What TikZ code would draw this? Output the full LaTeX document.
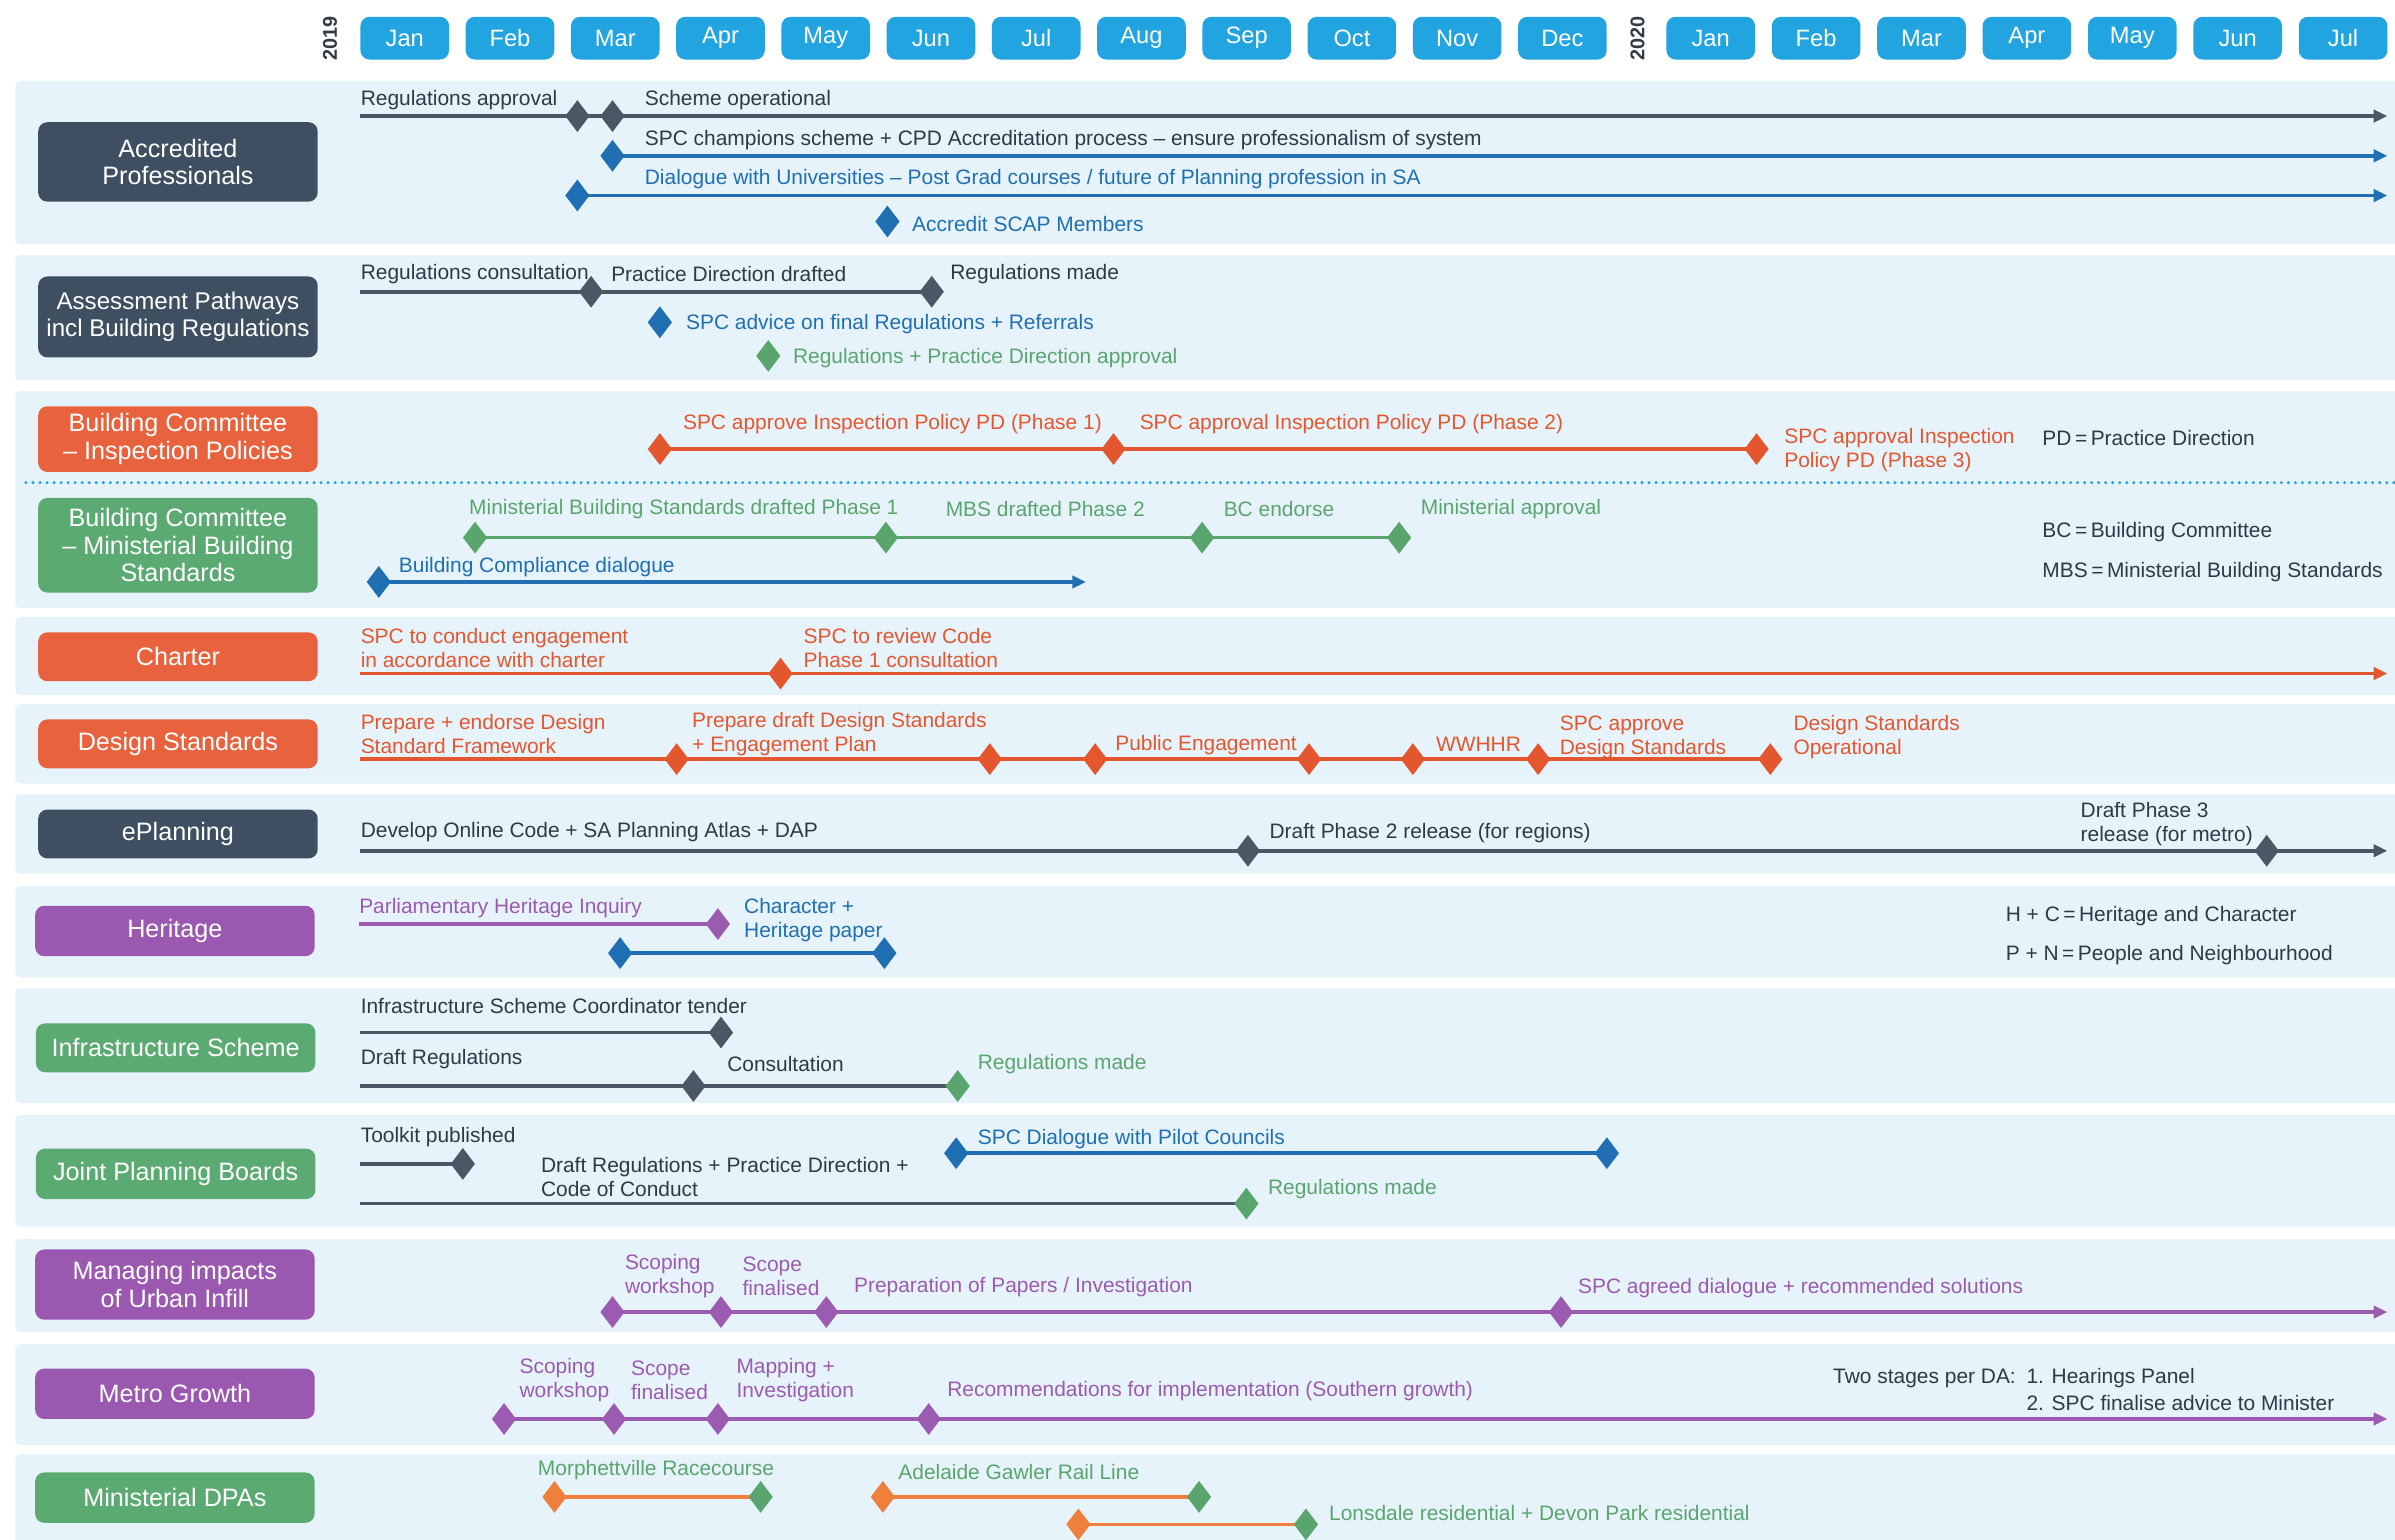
\documentclass[tikz,border=0pt]{standalone}
\usepackage{fontspec}
\setmainfont{Liberation Sans}
\usetikzlibrary{shapes.geometric,arrows.meta}
\pgfdeclarelayer{bgl}\pgfdeclarelayer{lnl}\pgfsetlayers{bgl,lnl,main}
\definecolor{slatec}{HTML}{3D4F60}
\definecolor{redc}{HTML}{E8623D}
\definecolor{greenc}{HTML}{5BAA72}
\definecolor{purplec}{HTML}{9A58B0}
\definecolor{pillc}{HTML}{21A4E0}
\definecolor{bandc}{HTML}{E7F3FB}
\definecolor{slatel}{HTML}{4A5866}
\definecolor{darkt}{HTML}{2E3A44}
\definecolor{redl}{HTML}{E4572E}
\definecolor{greenl}{HTML}{5AA56E}
\definecolor{bluel}{HTML}{1F6FB2}
\definecolor{purplel}{HTML}{9A5BB0}
\definecolor{orangel}{HTML}{F07F3C}
\newcommand\mylbl{\fontsize{13.7}{15.7}\selectfont}
\newcommand\mycat{\fontsize{16.5}{18}\selectfont}
\newcommand\mycatsm{\fontsize{15.8}{18}\selectfont}
\newcommand\mypill{\fontsize{15.5}{18}\selectfont}
\newcommand\myyear{\fontsize{13}{15}\selectfont\bfseries}
\begin{document}
\begin{tikzpicture}[x=1pt,y={(0,-1pt)},
  band/.style={fill=bandc, draw=none, rounded corners=3pt},
  catbox/.style={rounded corners=6pt, minimum width=183pt, text=white, font=\mycat, align=center, inner sep=0pt},
  pill/.style={fill=pillc, rounded corners=6pt, minimum width=58pt, minimum height=28pt, text=white, font=\mypill, inner sep=0pt},
  dia/.style={diamond, fill=#1, minimum width=16pt, minimum height=21pt, inner sep=0pt},
  txt/.style={anchor=west, inner sep=0pt, font=\mylbl, text=#1, align=left, yshift=-1.5pt},
  tline/.style={line width=2.4pt, draw=#1},
  arr/.style={-{Triangle[length=9pt,width=8pt]}},
  sepline/.style={draw=pillc, line width=2.2pt, line cap=round, dash pattern=on 0pt off 4.6pt}
]
\useasboundingbox (0,0) rectangle (1568,1008);
\begin{pgfonlayer}{bgl}
\fill[white] (0,0) rectangle (1568,1008);
\fill[band] (10,53) rectangle (1572,160);
\fill[band] (10,167) rectangle (1572,249);
\fill[band] (10,256) rectangle (1572,398);
\fill[band] (10,404) rectangle (1572,455);
\fill[band] (10,461) rectangle (1572,513);
\fill[band] (10,520) rectangle (1572,572);
\fill[band] (10,580) rectangle (1572,640);
\fill[band] (10,647) rectangle (1572,722);
\fill[band] (10,730) rectangle (1572,803);
\fill[band] (10,811) rectangle (1572,872);
\fill[band] (10,880) rectangle (1572,946);
\fill[band] (10,952) rectangle (1572,1012);
\end{pgfonlayer}

% header
\node[rotate=90, font=\myyear, text=darkt] (y19) at (216,25) {2019};
\node[rotate=90, font=\myyear, text=darkt] (y20) at (1072,25) {2020};
\foreach \i/\m in {0/Jan,1/Feb,2/Mar,3/Apr,4/May,5/Jun,6/Jul,7/Aug,8/Sep,9/Oct,10/Nov,11/Dec}
  \node[pill] (m\i) at ({265+68.9*\i},25) {\m};
\foreach \i/\m in {0/Jan,1/Feb,2/Mar,3/Apr,4/May,5/Jun,6/Jul}
  \node[pill] (n\i) at ({1120+69*\i},25) {\m};

% category boxes
\node[catbox, fill=slatec, minimum height=52pt] (cat1) at (116.5,106) {Accredited\\Professionals};
\node[catbox, fill=slatec, minimum height=53pt, font=\mycatsm] (cat2) at (116.5,207.5) {Assessment Pathways\\incl Building Regulations};
\node[catbox, fill=redc, minimum height=43pt] (cat3) at (116.5,287.5) {Building Committee\\– Inspection Policies};
\node[catbox, fill=greenc, minimum height=62pt] (cat4) at (116.5,357) {Building Committee\\– Ministerial Building\\Standards};
\node[catbox, fill=redc, minimum height=32pt] (cat5) at (116.5,430) {Charter};
\node[catbox, fill=redc, minimum height=32pt] (cat6) at (116.5,487) {Design Standards};
\node[catbox, fill=slatec, minimum height=32pt] (cat7) at (116.5,546) {ePlanning};
\node[catbox, fill=purplec, minimum height=33pt] (cat8) at (114.5,609.5) {Heritage};
\node[catbox, fill=greenc, minimum height=32pt] (cat9) at (115,686) {Infrastructure Scheme};
\node[catbox, fill=greenc, minimum height=33pt] (cat10) at (115,768.5) {Joint Planning Boards};
\node[catbox, fill=purplec, minimum height=46pt] (cat11) at (114.5,841) {Managing impacts\\of Urban Infill};
\node[catbox, fill=purplec, minimum height=33pt] (cat12) at (114.5,912.5) {Metro Growth};
\node[catbox, fill=greenc, minimum height=33pt] (cat13) at (114.5,980.5) {Ministerial DPAs};

% free ends
\coordinate (c1s) at (236,76);  \coordinate (c1e) at (1563,76);
\coordinate (c1f) at (1563,102); \coordinate (c1g) at (1563,128);
\coordinate (c2s) at (236,191);
\coordinate (cds) at (17,316);  \coordinate (cde) at (1568,316);
\coordinate (c4e) at (711,381);
\coordinate (c5s) at (236,441); \coordinate (c5e) at (1563,441);
\coordinate (c6s) at (236,497);
\coordinate (c7s) at (236,557); \coordinate (c7e) at (1563,557);
\coordinate (c8s) at (235,605);
\coordinate (c9s) at (236,676); \coordinate (c9t) at (236,711);
\coordinate (c10s) at (236,762); \coordinate (c10t) at (236,788);
\coordinate (c11e) at (1563,859);
\coordinate (c12e) at (1563,929);

% diamonds
\node[dia=slatel] (d1a) at (378,76) {};
\node[dia=slatel] (d1b) at (401,76) {};
\node[dia=bluel] (d1c) at (401,102) {};
\node[dia=bluel] (d1d) at (378,128) {};
\node[dia=bluel] (d1e) at (581,145) {};
\node[dia=slatel] (d2a) at (387,191) {};
\node[dia=slatel] (d2b) at (610,191) {};
\node[dia=bluel] (d2c) at (432,211) {};
\node[dia=greenl] (d2d) at (503,233) {};
\node[dia=redl] (d3a) at (432,294) {};
\node[dia=redl] (d3b) at (729,294) {};
\node[dia=redl] (d3c) at (1150,294) {};
\node[dia=greenl] (d4a) at (311,352) {};
\node[dia=greenl] (d4b) at (580,352) {};
\node[dia=greenl] (d4c) at (787,352) {};
\node[dia=greenl] (d4d) at (916,352) {};
\node[dia=bluel] (d4e) at (248,381) {};
\node[dia=redl] (d5a) at (511,441) {};
\node[dia=redl] (d6a) at (443,497) {};
\node[dia=redl] (d6b) at (648,497) {};
\node[dia=redl] (d6c) at (717,497) {};
\node[dia=redl] (d6d) at (857,497) {};
\node[dia=redl] (d6e) at (925,497) {};
\node[dia=redl] (d6f) at (1007,497) {};
\node[dia=redl] (d6g) at (1159,497) {};
\node[dia=slatel] (d7a) at (817,557) {};
\node[dia=slatel] (d7b) at (1484,557) {};
\node[dia=purplel] (d8a) at (470,605) {};
\node[dia=bluel] (d8b) at (406,624) {};
\node[dia=bluel] (d8c) at (579,624) {};
\node[dia=slatel] (d9a) at (472,676) {};
\node[dia=slatel] (d9b) at (454,711) {};
\node[dia=greenl] (d9c) at (627,711) {};
\node[dia=slatel] (d10a) at (303,762) {};
\node[dia=greenl] (d10b) at (816,788) {};
\node[dia=bluel] (d10c) at (626,755) {};
\node[dia=bluel] (d10d) at (1052,755) {};
\node[dia=purplel] (d11a) at (401,859) {};
\node[dia=purplel] (d11b) at (472,859) {};
\node[dia=purplel] (d11c) at (541,859) {};
\node[dia=purplel] (d11d) at (1022,859) {};
\node[dia=purplel] (d12a) at (330,929) {};
\node[dia=purplel] (d12b) at (402,929) {};
\node[dia=purplel] (d12c) at (470,929) {};
\node[dia=purplel] (d12d) at (608,929) {};
\node[dia=orangel] (d13a) at (363,980) {};
\node[dia=greenl] (d13b) at (498,980) {};
\node[dia=orangel] (d13c) at (578,980) {};
\node[dia=greenl] (d13d) at (785,980) {};
\node[dia=orangel] (d13e) at (706,998) {};
\node[dia=greenl] (d13f) at (855,998) {};

% connectors
\begin{pgfonlayer}{lnl}
\draw[sepline] (cds) -- (cde);
\draw[tline=slatel, arr] (c1s) -- (d1a.center) -- (d1b.center) -- (c1e);
\draw[tline=bluel, arr] (d1c.center) -- (c1f);
\draw[tline=bluel, arr] (d1d.center) -- (c1g);
\draw[tline=slatel] (c2s) -- (d2a.center) -- (d2b.center);
\draw[tline=redl] (d3a.center) -- (d3b.center) -- (d3c.center);
\draw[tline=greenl] (d4a.center) -- (d4b.center) -- (d4c.center) -- (d4d.center);
\draw[tline=bluel, arr] (d4e.center) -- (c4e);
\draw[tline=redl, arr] (c5s) -- (d5a.center) -- (c5e);
\draw[tline=redl] (c6s) -- (d6a.center) -- (d6b.center) -- (d6c.center) -- (d6d.center) -- (d6e.center) -- (d6f.center) -- (d6g.center);
\draw[tline=slatel, arr] (c7s) -- (d7a.center) -- (d7b.center) -- (c7e);
\draw[tline=purplel] (c8s) -- (d8a.center);
\draw[tline=bluel] (d8b.center) -- (d8c.center);
\draw[tline=slatel] (c9s) -- (d9a.center);
\draw[tline=slatel] (c9t) -- (d9b.center) -- (d9c.center);
\draw[tline=slatel] (c10s) -- (d10a.center);
\draw[tline=slatel] (c10t) -- (d10b.center);
\draw[tline=bluel] (d10c.center) -- (d10d.center);
\draw[tline=purplel, arr] (d11a.center) -- (d11b.center) -- (d11c.center) -- (d11d.center) -- (c11e);
\draw[tline=purplel, arr] (d12a.center) -- (d12b.center) -- (d12c.center) -- (d12d.center) -- (c12e);
\draw[tline=orangel] (d13a.center) -- (d13b.center);
\draw[tline=orangel] (d13c.center) -- (d13d.center);
\draw[tline=orangel] (d13e.center) -- (d13f.center);
\end{pgfonlayer}

% labels row 1
\node[txt=darkt] (t1a) at (236,64) {Regulations approval};
\node[txt=darkt] (t1b) at (422,64) {Scheme operational};
\node[txt=darkt] (t1c) at (422,90) {SPC champions scheme + CPD Accreditation process – ensure professionalism of system};
\node[txt=bluel] (t1d) at (422,116) {Dialogue with Universities – Post Grad courses / future of Planning profession in SA};
\node[txt=bluel] (t1e) at (597,145) {Accredit SCAP Members};
% row 2
\node[txt=darkt] (t2a) at (236,178) {Regulations consultation};
\node[txt=darkt] (t2b) at (400,178) {Practice Direction drafted};
\node[txt=darkt] (t2c) at (622,178) {Regulations made};
\node[txt=bluel] (t2d) at (449,211) {SPC advice on final Regulations + Referrals};
\node[txt=greenl] (t2e) at (519,233) {Regulations + Practice Direction approval};
% row 3
\node[txt=redl] (t3a) at (447,276) {SPC approve Inspection Policy PD (Phase 1)};
\node[txt=redl] (t3b) at (746,276) {SPC approval Inspection Policy PD (Phase 2)};
\node[txt=redl] (t3c) at (1168,293) {SPC approval Inspection\\Policy PD (Phase 3)};
\node[txt=darkt] (t3d) at (1337,285) {PD\,=\,Practice Direction};
% row 4
\node[txt=greenl] (t4a) at (307,332) {Ministerial Building Standards drafted Phase 1};
\node[txt=greenl] (t4b) at (619,332) {MBS drafted Phase 2};
\node[txt=greenl] (t4c) at (801,332) {BC endorse};
\node[txt=greenl] (t4d) at (930,332) {Ministerial approval};
\node[txt=bluel] (t4e) at (261,370) {Building Compliance dialogue};
\node[txt=darkt] (t4f) at (1337,347) {BC\,=\,Building Committee};
\node[txt=darkt] (t4g) at (1337,373) {MBS\,=\,Ministerial Building Standards};
% row 5
\node[txt=redl] (t5a) at (236,423) {SPC to conduct engagement\\in accordance with charter};
\node[txt=redl] (t5b) at (526,423) {SPC to review Code\\Phase 1 consultation};
% row 6
\node[txt=redl] (t6a) at (236,479) {Prepare + endorse Design\\Standard Framework};
\node[txt=redl] (t6b) at (453,479) {Prepare draft Design Standards\\+ Engagement Plan};
\node[txt=redl] (t6c) at (730,486) {Public Engagement};
\node[txt=redl] (t6d) at (940,486) {WWHHR};
\node[txt=redl] (t6e) at (1021,481) {SPC approve\\Design Standards};
\node[txt=redl] (t6f) at (1174,481) {Design Standards\\Operational};
% row 7
\node[txt=darkt] (t7a) at (236,543) {Develop Online Code + SA Planning Atlas + DAP};
\node[txt=darkt] (t7b) at (831,544) {Draft Phase 2 release (for regions)};
\node[txt=darkt] (t7c) at (1362,538) {Draft Phase 3\\release (for metro)};
% row 8
\node[txt=purplel] (t8a) at (235,593) {Parliamentary Heritage Inquiry};
\node[txt=bluel] (t8b) at (487,601) {Character +\\Heritage paper};
\node[txt=darkt] (t8c) at (1313,598) {H + C\,=\,Heritage and Character};
\node[txt=darkt] (t8d) at (1313,624) {P + N\,=\,People and Neighbourhood};
% row 9
\node[txt=darkt] (t9a) at (236,657) {Infrastructure Scheme Coordinator tender};
\node[txt=darkt] (t9b) at (236,692) {Draft Regulations};
\node[txt=darkt] (t9c) at (476,695) {Consultation};
\node[txt=greenl] (t9d) at (640,695) {Regulations made};
% row 10
\node[txt=darkt] (t10a) at (236,743) {Toolkit published};
\node[txt=darkt] (t10b) at (354,769) {Draft Regulations + Practice Direction +\\Code of Conduct};
\node[txt=greenl] (t10c) at (830,777) {Regulations made};
\node[txt=bluel] (t10d) at (640,744) {SPC Dialogue with Pilot Councils};
% row 11
\node[txt=purplel] (t11a) at (409,834) {Scoping\\workshop};
\node[txt=purplel] (t11b) at (486,834) {Scope\\finalised};
\node[txt=purplel] (t11c) at (559,841) {Preparation of Papers / Investigation};
\node[txt=purplel] (t11d) at (1033,842) {SPC agreed dialogue + recommended solutions};
% row 12
\node[txt=purplel] (t12a) at (340,902) {Scoping\\workshop};
\node[txt=purplel] (t12b) at (413,902) {Scope\\finalised};
\node[txt=purplel] (t12c) at (482,902) {Mapping +\\Investigation};
\node[txt=purplel] (t12d) at (620,909) {Recommendations for implementation (Southern growth)};
\node[txt=darkt] (t12e) at (1200,910) {\begin{tabular}{@{}l@{\hspace{7pt}}l@{}}Two stages per DA: & 1. Hearings Panel\\[2pt] & 2. SPC finalise advice to Minister\end{tabular}};
% row 13
\node[txt=greenl] (t13a) at (352,961) {Morphettville Racecourse};
\node[txt=greenl] (t13b) at (588,962) {Adelaide Gawler Rail Line};
\node[txt=greenl] (t13c) at (870,989) {Lonsdale residential + Devon Park residential};
\end{tikzpicture}
\end{document}
